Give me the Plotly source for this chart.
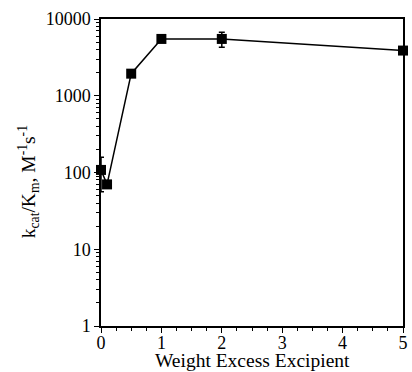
import plotly.graph_objects as go

excipient = [0, 0.1, 0.5, 1, 2, 5]
kcat_km = [108, 70, 1940, 5500, 5500, 3880]
err_plus = [50, 0, 0, 0, 1200, 0]
err_minus = [52, 0, 0, 0, 1200, 0]

x_ticks = [0, 1, 2, 3, 4, 5]
y_ticks = [1, 10, 100, 1000, 10000]
y_ticklabels = ["1", "10", "100", "1000", "10000"]
y_minor = [m * 10 ** d for d in range(4) for m in range(2, 10)]
x_minor = [i * 0.25 for i in range(21)]

FAM = "Liberation Serif"
FT = dict(family=FAM, size=18, color="black")
FL = dict(family=FAM, size=19.5, color="black")

fig = go.Figure()
fig.add_trace(go.Scatter(
    x=excipient, y=kcat_km, mode="lines+markers",
    line=dict(color="black", width=1.5),
    marker=dict(symbol="square", size=10, color="black"),
    error_y=dict(type="data", array=err_plus, arrayminus=err_minus,
                 color="black", thickness=1.5, width=3, symmetric=False),
    cliponaxis=False, showlegend=False,
))

fig.update_layout(
    width=412, height=372,
    margin=dict(l=101, r=4, t=19, b=46),
    paper_bgcolor="white", plot_bgcolor="white",
    font=FT,
    xaxis=dict(
        range=[0, 5], tickvals=x_ticks, ticks="outside", ticklen=5, tickwidth=1.2,
        tickcolor="black", showline=True, linecolor="black", linewidth=1.5,
        mirror=True, showgrid=False, zeroline=False,
        minor=dict(tickvals=x_minor, ticks="outside", ticklen=3, tickcolor="black",
                   tickwidth=1, showgrid=False),
        tickfont=FT, ticklabelstandoff=-5,
    ),
    yaxis=dict(
        type="log", range=[0, 4], tickvals=y_ticks, ticktext=y_ticklabels,
        ticks="outside", ticklen=5, tickwidth=1.2, tickcolor="black",
        showline=True, linecolor="black", linewidth=1.5, mirror=True,
        showgrid=False, zeroline=False,
        minor=dict(tickvals=y_minor, ticks="outside", ticklen=3, tickcolor="black",
                   tickwidth=1, showgrid=False),
        tickfont=FT, ticklabelstandoff=0,
    ),
    annotations=[
        dict(text="k<sub>cat</sub>/K<sub>m</sub>, M<sup>-1</sup>s<sup>-1</sup>",
             xref="paper", yref="paper", x=-0.24, y=0.47, textangle=-90,
             showarrow=False, font=FL, xanchor="center", yanchor="middle"),
        dict(text="Weight Excess Excipient",
             xref="paper", yref="paper", x=0.5, y=-0.1498,
             showarrow=False, font=FL, xanchor="center", yanchor="bottom",
             borderpad=0),
    ],
)

fig.write_html("out.html", config={"displayModeBar": False},
               post_script="document.body.style.margin='0';")
